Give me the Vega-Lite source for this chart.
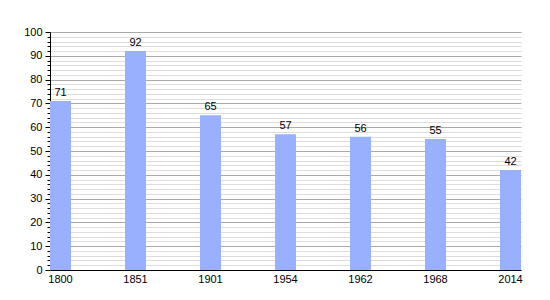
{
  "$schema": "https://vega.github.io/schema/vega-lite/v6.json",
  "autosize": "none",
  "width": 471,
  "height": 238,
  "padding": {"left": 50, "top": 32, "right": 29, "bottom": 30},
  "background": "white",
  "config": {
    "view": {"stroke": null},
    "font": "Liberation Sans",
    "axis": {"labelFont": "Liberation Sans", "labelFontSize": 11, "labelColor": "#000"}
  },
  "data": {
    "values": [
      {"year": "1800", "pop": 71},
      {"year": "1851", "pop": 92},
      {"year": "1901", "pop": 65},
      {"year": "1954", "pop": 57},
      {"year": "1962", "pop": 56},
      {"year": "1968", "pop": 55},
      {"year": "2014", "pop": 42}
    ]
  },
  "encoding": {
    "x": {
      "field": "year",
      "type": "ordinal",
      "sort": null,
      "scale": {"paddingInner": 0.72, "paddingOuter": 0},
      "axis": {
        "title": null,
        "labelAngle": 0,
        "ticks": false,
        "domain": true,
        "domainColor": "#000",
        "labelPadding": 3
      }
    },
    "y": {
      "field": "pop",
      "type": "quantitative",
      "scale": {"domain": [0, 100], "nice": false},
      "axis": {
        "title": null,
        "values": [0,2,4,6,8,10,12,14,16,18,20,22,24,26,28,30,32,34,36,38,40,42,44,46,48,50,52,54,56,58,60,62,64,66,68,70,72,74,76,78,80,82,84,86,88,90,92,94,96,98,100],
        "labelExpr": "datum.value % 10 === 0 ? datum.label : ''",
        "grid": true,
        "gridColor": {"condition": {"test": "datum.value % 10 === 0", "value": "#aaaaaa"}, "value": "#dddddd"},
        "gridWidth": 1,
        "tickColor": "#000",
        "tickSize": {"condition": {"test": "datum.value % 10 === 0", "value": 5}, "value": 3},
        "domainColor": "#000",
        "labelPadding": 3
      }
    }
  },
  "layer": [
    {"mark": {"type": "bar", "color": "#99b0ff"}},
    {
      "mark": {"type": "text", "baseline": "bottom", "dy": -3, "fontSize": 11, "color": "#000", "font": "Liberation Sans"},
      "encoding": {"text": {"field": "pop", "type": "quantitative"}}
    }
  ]
}
